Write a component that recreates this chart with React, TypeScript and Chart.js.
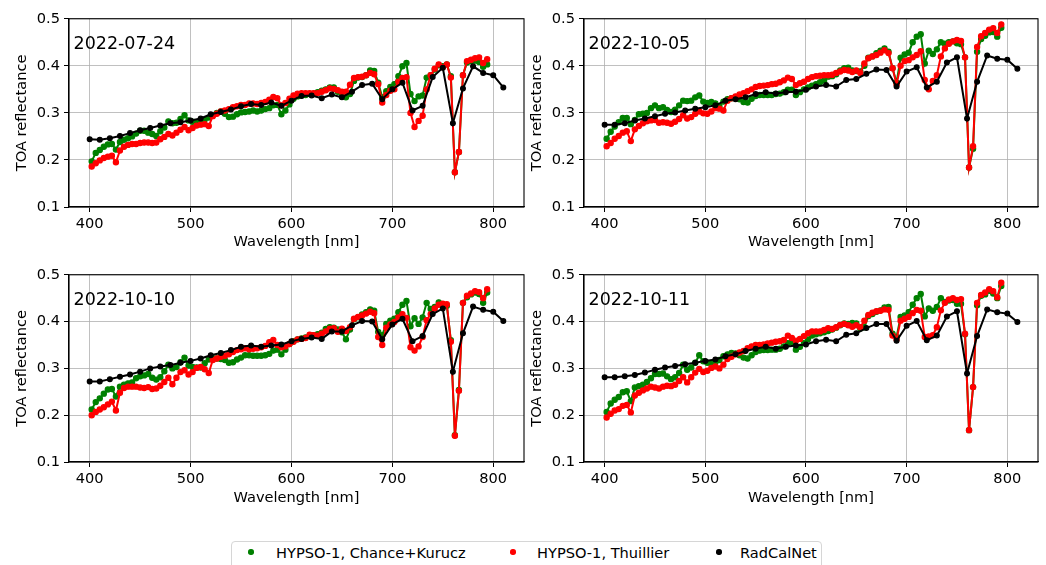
import React, { useEffect, useRef } from 'react';
import { Chart, registerables } from 'chart.js';

Chart.register(...registerables);

// ---------- data ----------
const HYPSO_WL = [
  402, 406, 410, 414, 418, 422, 426, 430, 434, 438,
  442, 446, 450, 454, 458, 462, 466, 470, 474, 478,
  482, 486, 490, 494, 498, 502, 506, 510, 514, 518,
  522, 526, 530, 534, 538, 542, 546, 550, 554, 558,
  562, 566, 570, 574, 578, 582, 586, 590, 594, 598,
  602, 606, 610, 614, 618, 622, 626, 630, 634, 638,
  642, 646, 650, 654, 658, 662, 666, 670, 674, 678,
  682, 686, 690, 694, 698, 702, 706, 710, 714, 718,
  722, 726, 730, 734, 738, 742, 746, 750, 754, 758,
  762, 766, 770, 774, 778, 782, 786, 790, 794,
];

const RCN_WL = [
  400, 410, 420, 430, 440, 450, 460, 470, 480, 490,
  500, 510, 520, 530, 540, 550, 560, 570, 580, 590,
  600, 610, 620, 630, 640, 650, 660, 670, 680, 690,
  700, 710, 720, 730, 740, 750, 760, 770, 780, 790,
  800, 810,
];

const DATES = ['2022-07-24', '2022-10-05', '2022-10-10', '2022-10-11'];

const CK_0724 = [
  0.197, 0.215, 0.221, 0.228, 0.233, 0.234, 0.222, 0.238, 0.243, 0.246,
  0.250, 0.256, 0.262, 0.262, 0.258, 0.255, 0.251, 0.261, 0.269, 0.282,
  0.278, 0.279, 0.287, 0.295, 0.284, 0.281, 0.280, 0.280, 0.286, 0.290,
  0.295, 0.300, 0.303, 0.298, 0.291, 0.292, 0.297, 0.301, 0.302, 0.303,
  0.305, 0.303, 0.305, 0.308, 0.310, 0.316, 0.317, 0.297, 0.305, 0.318,
  0.330, 0.335, 0.337, 0.338, 0.340, 0.341, 0.344, 0.347, 0.350, 0.354,
  0.354, 0.345, 0.335, 0.333, 0.340, 0.368, 0.375, 0.376, 0.380, 0.390,
  0.389, 0.364, 0.333, 0.346, 0.355, 0.361, 0.378, 0.399, 0.406, 0.340,
  0.325, 0.335, 0.337, 0.375, 0.380, 0.392, 0.401, 0.399, 0.403, 0.378,
  0.174, 0.217, 0.380, 0.407, 0.410, 0.411, 0.408, 0.398, 0.403,
];
const TH_0724 = [
  0.186, 0.193, 0.199, 0.204, 0.207, 0.209, 0.195, 0.220, 0.228, 0.232,
  0.234, 0.234, 0.236, 0.237, 0.237, 0.236, 0.237, 0.244, 0.249, 0.255,
  0.252, 0.258, 0.264, 0.270, 0.263, 0.268, 0.273, 0.275, 0.276, 0.272,
  0.293, 0.298, 0.303, 0.305, 0.308, 0.312, 0.314, 0.317, 0.317, 0.320,
  0.320, 0.319, 0.321, 0.323, 0.328, 0.334, 0.331, 0.316, 0.321, 0.330,
  0.337, 0.341, 0.342, 0.342, 0.342, 0.342, 0.342, 0.345, 0.348, 0.352,
  0.351, 0.348, 0.345, 0.345, 0.360, 0.374, 0.376, 0.377, 0.380, 0.385,
  0.382, 0.361, 0.322, 0.338, 0.347, 0.350, 0.366, 0.374, 0.376, 0.300,
  0.270, 0.283, 0.294, 0.350, 0.380, 0.394, 0.403, 0.397, 0.403, 0.375,
  0.174, 0.217, 0.380, 0.410, 0.413, 0.416, 0.418, 0.406, 0.414,
];
const RCN_0724 = [
  0.244, 0.243, 0.246, 0.251, 0.257, 0.263, 0.268, 0.273, 0.278, 0.280,
  0.284, 0.288, 0.297, 0.302, 0.307, 0.314, 0.319, 0.317, 0.322, 0.315,
  0.326, 0.336, 0.337, 0.331, 0.339, 0.333, 0.345, 0.359, 0.362, 0.329,
  0.350, 0.364, 0.305, 0.315, 0.376, 0.396, 0.278, 0.352, 0.399, 0.385,
  0.380, 0.354,
];

const CK_1005 = [
  0.245, 0.260, 0.271, 0.280, 0.289, 0.289, 0.276, 0.285, 0.297, 0.298,
  0.300, 0.310, 0.316, 0.310, 0.312, 0.306, 0.302, 0.307, 0.316, 0.326,
  0.325, 0.326, 0.333, 0.337, 0.324, 0.321, 0.323, 0.320, 0.314, 0.324,
  0.329, 0.331, 0.331, 0.329, 0.323, 0.322, 0.330, 0.336, 0.338, 0.338,
  0.338, 0.338, 0.340, 0.341, 0.344, 0.349, 0.349, 0.338, 0.344, 0.350,
  0.354, 0.358, 0.361, 0.365, 0.369, 0.377, 0.378, 0.382, 0.390, 0.395,
  0.396, 0.390, 0.389, 0.388, 0.400, 0.417, 0.420, 0.427, 0.432, 0.437,
  0.430, 0.395, 0.364, 0.417, 0.424, 0.428, 0.450, 0.462, 0.467, 0.405,
  0.432, 0.425, 0.435, 0.450, 0.447, 0.450, 0.452, 0.448, 0.446, 0.418,
  0.184, 0.224, 0.430, 0.457, 0.464, 0.471, 0.472, 0.462, 0.481,
];
const TH_1005 = [
  0.229, 0.236, 0.245, 0.251, 0.258, 0.261, 0.240, 0.265, 0.272, 0.278,
  0.282, 0.284, 0.285, 0.279, 0.280, 0.279, 0.277, 0.281, 0.287, 0.295,
  0.288, 0.291, 0.298, 0.303, 0.299, 0.298, 0.303, 0.310, 0.309, 0.305,
  0.326, 0.331, 0.335, 0.339, 0.342, 0.346, 0.350, 0.355, 0.357, 0.358,
  0.359, 0.361, 0.362, 0.365, 0.369, 0.375, 0.372, 0.359, 0.363, 0.366,
  0.372, 0.376, 0.378, 0.379, 0.380, 0.380, 0.381, 0.385, 0.388, 0.391,
  0.390, 0.387, 0.390, 0.385, 0.405, 0.416, 0.420, 0.423, 0.428, 0.433,
  0.427, 0.395, 0.361, 0.400, 0.410, 0.412, 0.418, 0.423, 0.431, 0.370,
  0.350, 0.368, 0.380, 0.420, 0.437, 0.447, 0.452, 0.455, 0.453, 0.418,
  0.184, 0.229, 0.440, 0.463, 0.470, 0.477, 0.480, 0.470, 0.488,
];
const RCN_1005 = [
  0.275, 0.275, 0.278, 0.284, 0.288, 0.293, 0.298, 0.301, 0.305, 0.309,
  0.312, 0.316, 0.326, 0.329, 0.333, 0.340, 0.344, 0.341, 0.344, 0.345,
  0.349, 0.356, 0.359, 0.356, 0.370, 0.372, 0.383, 0.392, 0.391, 0.356,
  0.388, 0.397, 0.354, 0.366, 0.407, 0.418, 0.288, 0.366, 0.422, 0.415,
  0.413, 0.394,
];

const CK_1010 = [
  0.212, 0.228, 0.236, 0.246, 0.255, 0.256, 0.240, 0.261, 0.265, 0.268,
  0.270, 0.279, 0.283, 0.285, 0.288, 0.280, 0.276, 0.281, 0.294, 0.308,
  0.300, 0.303, 0.313, 0.323, 0.306, 0.303, 0.302, 0.302, 0.311, 0.319,
  0.322, 0.321, 0.320, 0.318, 0.312, 0.313, 0.319, 0.323, 0.328, 0.328,
  0.327, 0.327, 0.327, 0.328, 0.331, 0.338, 0.340, 0.330, 0.340, 0.352,
  0.358, 0.362, 0.364, 0.366, 0.369, 0.371, 0.373, 0.376, 0.384, 0.388,
  0.387, 0.383, 0.377, 0.362, 0.383, 0.405, 0.409, 0.415, 0.420, 0.426,
  0.423, 0.378, 0.371, 0.395, 0.402, 0.406, 0.420, 0.436, 0.444, 0.390,
  0.407, 0.395, 0.409, 0.440, 0.427, 0.431, 0.441, 0.437, 0.434, 0.360,
  0.157, 0.254, 0.440, 0.452, 0.458, 0.462, 0.459, 0.440, 0.462,
];
const TH_1010 = [
  0.200, 0.207, 0.212, 0.217, 0.223, 0.229, 0.210, 0.248, 0.258, 0.261,
  0.261, 0.261, 0.259, 0.258, 0.260, 0.256, 0.257, 0.263, 0.271, 0.280,
  0.266, 0.280, 0.292, 0.296, 0.287, 0.292, 0.301, 0.303, 0.298, 0.290,
  0.318, 0.321, 0.325, 0.327, 0.330, 0.335, 0.339, 0.341, 0.343, 0.341,
  0.342, 0.343, 0.345, 0.348, 0.356, 0.361, 0.350, 0.345, 0.347, 0.352,
  0.357, 0.362, 0.363, 0.365, 0.372, 0.371, 0.370, 0.374, 0.379, 0.385,
  0.386, 0.378, 0.385, 0.380, 0.388, 0.406, 0.410, 0.413, 0.417, 0.421,
  0.418, 0.367, 0.350, 0.387, 0.394, 0.399, 0.409, 0.416, 0.408, 0.345,
  0.338, 0.347, 0.367, 0.403, 0.416, 0.428, 0.436, 0.438, 0.437, 0.357,
  0.156, 0.252, 0.440, 0.455, 0.460, 0.465, 0.463, 0.450, 0.469,
];
const RCN_1010 = [
  0.272, 0.272, 0.277, 0.282, 0.287, 0.293, 0.300, 0.304, 0.307, 0.312,
  0.316, 0.321, 0.328, 0.333, 0.339, 0.346, 0.349, 0.346, 0.349, 0.351,
  0.358, 0.363, 0.366, 0.363, 0.379, 0.379, 0.392, 0.401, 0.400, 0.362,
  0.394, 0.406, 0.358, 0.369, 0.416, 0.428, 0.293, 0.375, 0.432, 0.425,
  0.421, 0.401,
];

const CK_1011 = [
  0.207, 0.225, 0.233, 0.239, 0.249, 0.251, 0.230, 0.259, 0.262, 0.265,
  0.271, 0.279, 0.288, 0.288, 0.289, 0.283, 0.277, 0.281, 0.290, 0.308,
  0.297, 0.302, 0.312, 0.328, 0.315, 0.312, 0.310, 0.313, 0.318, 0.326,
  0.330, 0.333, 0.332, 0.328, 0.323, 0.321, 0.328, 0.335, 0.338, 0.339,
  0.339, 0.340, 0.340, 0.342, 0.347, 0.354, 0.356, 0.340, 0.346, 0.354,
  0.362, 0.370, 0.373, 0.375, 0.377, 0.380, 0.383, 0.387, 0.392, 0.396,
  0.395, 0.397, 0.396, 0.385, 0.388, 0.412, 0.416, 0.421, 0.424, 0.430,
  0.431, 0.374, 0.367, 0.410, 0.413, 0.420, 0.436, 0.450, 0.459, 0.411,
  0.428, 0.423, 0.431, 0.450, 0.442, 0.445, 0.446, 0.438, 0.438, 0.373,
  0.168, 0.260, 0.435, 0.455, 0.458, 0.466, 0.460, 0.450, 0.476,
];
const TH_1011 = [
  0.195, 0.203, 0.210, 0.213, 0.220, 0.222, 0.206, 0.242, 0.248, 0.253,
  0.257, 0.261, 0.259, 0.257, 0.261, 0.263, 0.262, 0.265, 0.273, 0.281,
  0.270, 0.281, 0.291, 0.299, 0.292, 0.295, 0.301, 0.304, 0.300, 0.308,
  0.320, 0.325, 0.330, 0.334, 0.337, 0.343, 0.347, 0.350, 0.350, 0.351,
  0.353, 0.355, 0.357, 0.358, 0.361, 0.370, 0.365, 0.359, 0.363, 0.369,
  0.375, 0.379, 0.379, 0.379, 0.382, 0.386, 0.384, 0.388, 0.393, 0.395,
  0.392, 0.389, 0.392, 0.388, 0.402, 0.414, 0.419, 0.422, 0.423, 0.426,
  0.425, 0.370, 0.362, 0.402, 0.406, 0.410, 0.418, 0.425, 0.423, 0.367,
  0.368, 0.371, 0.388, 0.424, 0.440, 0.447, 0.450, 0.446, 0.448, 0.374,
  0.168, 0.260, 0.440, 0.457, 0.462, 0.469, 0.465, 0.452, 0.483,
];
const RCN_1011 = [
  0.281, 0.281, 0.283, 0.286, 0.291, 0.297, 0.302, 0.305, 0.309, 0.312,
  0.316, 0.319, 0.326, 0.330, 0.337, 0.342, 0.346, 0.342, 0.346, 0.349,
  0.351, 0.358, 0.361, 0.358, 0.372, 0.375, 0.386, 0.395, 0.395, 0.359,
  0.391, 0.401, 0.360, 0.370, 0.411, 0.422, 0.289, 0.369, 0.426, 0.420,
  0.417, 0.399,
];

const X_TICKS = [400, 500, 600, 700, 800];
const Y_TICKS = [0.1, 0.2, 0.3, 0.4, 0.5];
const SERIES_NAMES = ['HYPSO-1, Chance+Kurucz', 'HYPSO-1, Thuillier', 'RadCalNet'];

// ---------- styles ----------
const GREEN = '#008000';
const RED = '#ff0000';
const BLACK = '#000000';
const FONT = '"DejaVu Sans", Verdana, sans-serif';
const TICK_PX = 14.6;

const PANELS = [
  { date: DATES[0], ck: CK_0724, th: TH_0724, rcn: RCN_0724, left: 0, top: 6, width: 530, height: 250, xh: 49 },
  { date: DATES[1], ck: CK_1005, th: TH_1005, rcn: RCN_1005, left: 515, top: 6, width: 529, height: 250, xh: 49 },
  { date: DATES[2], ck: CK_1010, th: TH_1010, rcn: RCN_1010, left: 0, top: 262, width: 530, height: 250, xh: 50 },
  { date: DATES[3], ck: CK_1011, th: TH_1011, rcn: RCN_1011, left: 515, top: 262, width: 529, height: 250, xh: 50 },
];

function lineDs(label: string, xs: number[], ys: number[], color: string, order: number, r: number) {
  return {
    label,
    data: xs.map((x, i) => ({ x, y: ys[i] })),
    borderColor: color,
    backgroundColor: color,
    borderWidth: 2,
    pointRadius: r,
    pointBorderWidth: 1.2,
    pointBackgroundColor: color,
    pointBorderColor: color,
    pointHoverRadius: r,
    tension: 0,
    fill: false,
    order,
  };
}

function Panel(props: any) {
  const { date, ck, th, rcn, left, top, width, height, xh } = props;
  const ref = useRef<HTMLCanvasElement>(null);
  useEffect(() => {
    const canvas = ref.current;
    if (!canvas) return;
    const frame = {
      id: 'frame' + date,
      afterDraw(chart: any) {
        const { ctx, chartArea: a } = chart;
        ctx.save();
        ctx.strokeStyle = '#000';
        ctx.lineWidth = 1.1;
        ctx.strokeRect(a.left, a.top, a.right - a.left, a.bottom - a.top);
        ctx.fillStyle = '#000';
        ctx.font = `17.5px ${FONT}`;
        ctx.textBaseline = 'alphabetic';
        ctx.textAlign = 'left';
        ctx.fillText(date, a.left + 4.5, a.top + 30.7);
        ctx.restore();
      },
    };
    const tickFont = { family: FONT, size: TICK_PX, lineHeight: 1.2 };
    const chart = new Chart(canvas, {
      type: 'line',
      data: {
        datasets: [
          lineDs(SERIES_NAMES[2], RCN_WL, rcn, BLACK, 0, 2.4),
          lineDs(SERIES_NAMES[1], HYPSO_WL, th, RED, 1, 2.6),
          lineDs(SERIES_NAMES[0], HYPSO_WL, ck, GREEN, 2, 2.6),
        ],
      },
      options: {
        animation: false,
        responsive: false,
        maintainAspectRatio: false,
        layout: { padding: { top: 10, right: 6, left: 0, bottom: 0 } },
        plugins: { legend: { display: false }, tooltip: { enabled: false } },
        events: [],
        scales: {
          x: {
            type: 'linear',
            min: 379.5,
            max: 830.5,
            afterBuildTicks: (s: any) => { s.ticks = X_TICKS.map((v) => ({ value: v })); },
            afterFit: (s: any) => { s.height = xh; },
            grid: { color: '#b0b0b0', lineWidth: 0.8, tickColor: '#000', tickLength: 5, tickWidth: 1 },
            border: { display: true, color: '#000', width: 1.1 },
            ticks: { color: '#000', font: tickFont, padding: 3, maxRotation: 0, autoSkip: false, callback: (v: any) => String(v) },
            title: { display: true, text: 'Wavelength [nm]', color: '#000', font: tickFont, padding: { top: 0, bottom: 5.2 } },
          },
          y: {
            type: 'linear',
            min: 0.1,
            max: 0.5,
            afterBuildTicks: (s: any) => { s.ticks = Y_TICKS.map((v) => ({ value: v })); },
            afterFit: (s: any) => { s.width = 69; },
            grid: { color: '#b0b0b0', lineWidth: 0.8, tickColor: '#000', tickLength: 5, tickWidth: 1 },
            border: { display: true, color: '#000', width: 1.1 },
            ticks: { color: '#000', font: tickFont, padding: 4, autoSkip: false, callback: (v: any) => Number(v).toFixed(1) },
            title: { display: true, text: 'TOA reflectance', color: '#000', font: tickFont, padding: { top: 13.3, bottom: 0 } },
          },
        },
      },
      plugins: [frame],
    } as any);
    return () => chart.destroy();
  }, []);
  return (
    <canvas
      ref={ref}
      width={width}
      height={height}
      style={{ position: 'absolute', left, top, width, height, display: 'block' }}
    />
  );
}

function Legend() {
  const items = [
    { color: GREEN, dot: 251, text: 277, label: SERIES_NAMES[0] },
    { color: RED, dot: 513, text: 538, label: SERIES_NAMES[1] },
    { color: BLACK, dot: 719, text: 741, label: SERIES_NAMES[2] },
  ];
  return (
    <>
      <div
        style={{
          position: 'absolute', left: 231, top: 541, width: 591, height: 40,
          border: '1px solid #d6d6d6', borderRadius: 4, background: '#fff', boxSizing: 'border-box',
        }}
      />
      {items.map((it) => (
        <React.Fragment key={it.label}>
          <div
            style={{
              position: 'absolute', left: it.dot - 2.7, top: 552 - 2.7, width: 5.4, height: 5.4,
              borderRadius: '50%', background: it.color,
            }}
          />
          <div
            style={{
              position: 'absolute', left: it.text - 1, top: 543.5, fontFamily: FONT, fontSize: TICK_PX,
              lineHeight: '17px', color: '#000', whiteSpace: 'nowrap',
            }}
          >
            {it.label}
          </div>
        </React.Fragment>
      ))}
    </>
  );
}

export default function App() {
  return (
    <div style={{ position: 'absolute', left: 0, top: 0, width: 1046, height: 565, overflow: 'hidden', background: '#fff' }}>
      {PANELS.map((p) => (
        <Panel key={p.date} {...p} />
      ))}
      <Legend />
    </div>
  );
}
